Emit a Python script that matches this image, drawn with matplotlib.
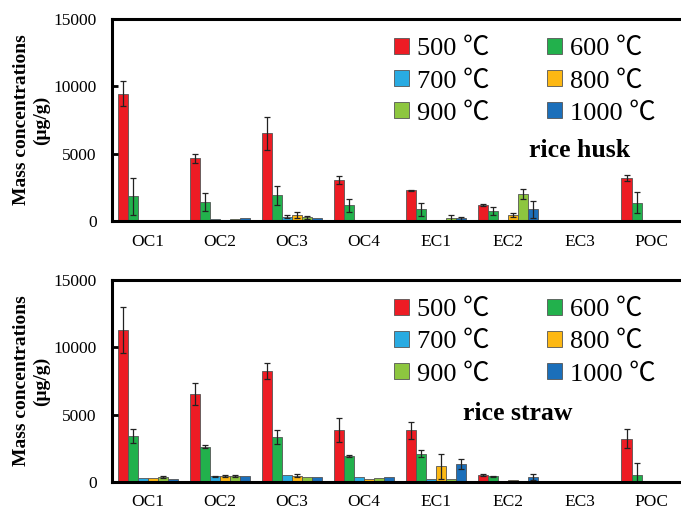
import numpy as np
import matplotlib.pyplot as plt

plt.rcParams['font.family'] = ['Liberation Serif', 'Noto Sans CJK JP', 'DejaVu Sans']

categories = ['OC1', 'OC2', 'OC3', 'OC4', 'EC1', 'EC2', 'EC3', 'POC']
temps = ['500 ℃', '600 ℃', '700 ℃', '800 ℃', '900 ℃', '1000 ℃']
colors = ['#ED1C24', '#22B14C', '#29ABE2', '#FDB813', '#8DC63F', '#1B6FBA']

# rice husk: one list per temperature, values per category
husk_vals = [
    [9450, 4660, 6500, 3040, 2270, 1200, 0, 3190],
    [1820, 1390, 1920, 1170, 870, 750, 0, 1370],
    [80, 150, 320, 60, 0, 0, 0, 0],
    [0, 100, 420, 60, 60, 450, 0, 0],
    [50, 120, 270, 80, 220, 2040, 0, 0],
    [50, 220, 220, 100, 200, 870, 0, 0],
]
husk_err = [
    [950, 320, 1200, 300, 60, 80, 0, 250],
    [1400, 670, 700, 470, 500, 320, 0, 770],
    [0, 0, 100, 0, 0, 0, 0, 0],
    [0, 0, 220, 0, 0, 120, 0, 0],
    [0, 0, 100, 0, 220, 370, 0, 0],
    [0, 0, 0, 0, 100, 620, 0, 0],
]

# rice straw
straw_vals = [
    [11310, 6550, 8230, 3840, 3840, 520, 0, 3220],
    [3400, 2630, 3320, 1910, 2110, 420, 0, 520],
    [300, 420, 500, 350, 200, 0, 0, 0],
    [300, 450, 470, 250, 1170, 120, 0, 0],
    [370, 450, 350, 320, 220, 0, 0, 0],
    [220, 450, 350, 370, 1310, 370, 0, 0],
]
straw_err = [
    [1710, 820, 620, 890, 640, 80, 0, 690],
    [500, 80, 520, 60, 250, 60, 0, 920],
    [0, 60, 0, 0, 0, 0, 0, 0],
    [0, 100, 100, 0, 940, 0, 0, 0],
    [100, 100, 0, 0, 0, 0, 0, 0],
    [0, 0, 0, 0, 370, 200, 0, 0],
]

fig = plt.figure(figsize=(6.81, 5.11), dpi=100)
ax1 = fig.add_axes([0.1645, 0.5675, 0.84, 0.3955])
ax2 = fig.add_axes([0.1645, 0.0568, 0.84, 0.3955])

x = np.arange(len(categories))
w = 0.14


def draw(ax, vals, errs, label, lx, ly):
    handles = []
    for i in range(6):
        b = ax.bar(x + (i - 2.5) * w, vals[i], w, color=colors[i],
                   edgecolor='#555555', linewidth=0.6, label=temps[i])
        e = np.array(errs[i])
        v = np.array(vals[i])
        m = e > 0
        ax.errorbar((x + (i - 2.5) * w)[m], v[m], yerr=e[m], fmt='none',
                    ecolor='#222222', elinewidth=0.9, capsize=2.5, capthick=0.9)
        handles.append(b)
    order = [0, 2, 4, 1, 3, 5]
    ax.legend([handles[k] for k in order], [temps[k] for k in order], ncol=2,
              loc='upper left', bbox_to_anchor=(0.466, 0.985), frameon=False,
              fontsize=19, handlelength=0.55, handleheight=0.55, handletextpad=0.3,
              columnspacing=2.2, labelspacing=0.38, borderaxespad=0.2)
    ax.text(lx, ly, label, transform=ax.transAxes, ha='center', va='center',
            fontsize=18.5, fontweight='bold')
    ax.set_xlim(-0.5, 7.45)
    ax.set_ylim(0, 15000)
    ax.set_yticks([0, 5000, 10000, 15000])
    ax.set_xticks(x)
    ax.set_xticklabels(categories, fontsize=12.5)
    ax.tick_params(axis='y', direction='in', length=4, width=2, labelsize=12.5, pad=11)
    ax.tick_params(axis='x', length=0, pad=9)
    for s in ['left', 'bottom', 'top']:
        ax.spines[s].set_linewidth(2.2)
    ax.spines['right'].set_visible(False)
    ax.set_ylabel('Mass concentrations\n(μg/g)', fontsize=14, fontweight='bold',
                  linespacing=1.2)
    ax.yaxis.set_label_coords(-0.108, 0.5)


draw(ax1, husk_vals, husk_err, 'rice husk', 0.818, 0.35)
draw(ax2, straw_vals, straw_err, 'rice straw', 0.71, 0.34)

fig.savefig('out.png', dpi=100)
